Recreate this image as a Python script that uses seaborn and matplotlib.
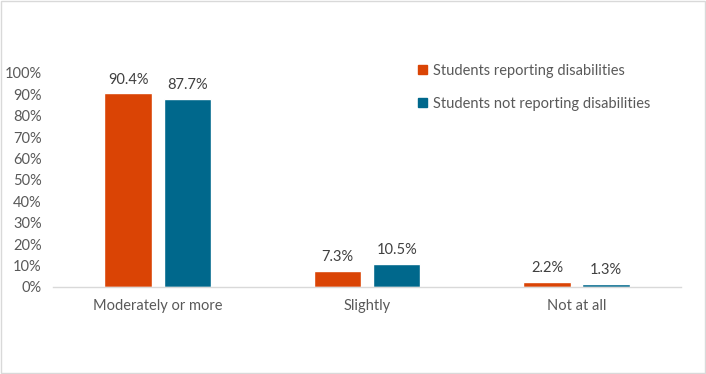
import matplotlib
matplotlib.use("Agg")
import matplotlib.pyplot as plt
from matplotlib.patches import Rectangle
import seaborn as sns
import pandas as pd

categories = ["Moderately or more", "Slightly", "Not at all"]
series_names = ["Students reporting disabilities", "Students not reporting disabilities"]
reporting = [90.4, 7.3, 2.2]
not_reporting = [87.7, 10.5, 1.3]
colors = ["#DA4405", "#00688C"]

df = pd.DataFrame({
    "category": categories * 2,
    "group": [series_names[0]] * 3 + [series_names[1]] * 3,
    "value": [v / 100 for v in reporting + not_reporting],
})

sns.set_theme(style="white")
plt.rcParams["font.family"] = ["Lato", "DejaVu Sans"]
text_color = "#595959"

fig = plt.figure(figsize=(7.06, 3.74), dpi=100)
ax = fig.add_axes([0.075, 0.233, 0.89, 0.572])

sns.barplot(data=df, x="category", y="value", hue="group", hue_order=series_names,
            palette=colors, width=0.565, gap=0.2, saturation=1, ax=ax)

for container in ax.containers:
    ax.bar_label(container, labels=[f"{b.get_height() * 100:.1f}%" for b in container],
                 padding=5, fontsize=10.5, color="#404040")

ax.set_ylim(0, 1.0)
ax.set_xlim(-0.5, 2.5)
ax.set_yticks([i / 10 for i in range(11)])
ax.set_yticklabels([f"{i * 10}%" for i in range(11)])
ax.tick_params(axis="both", length=0, labelsize=10.5, labelcolor=text_color)
ax.tick_params(axis="x", pad=9)
ax.tick_params(axis="y", pad=8)
ax.set_xlabel("")
ax.set_ylabel("")
for side in ["top", "right", "left"]:
    ax.spines[side].set_visible(False)
ax.spines["bottom"].set_color("#D9D9D9")
ax.spines["bottom"].set_linewidth(1)

ax.legend_.remove()
handles = [Rectangle((0, 0), 1, 1, color=c) for c in colors]
fig.legend(handles, series_names, loc="upper left", bbox_to_anchor=(0.574, 0.864),
           frameon=False, fontsize=10.5, labelcolor=text_color,
           handlelength=0.6, handleheight=0.6, handletextpad=0.4, labelspacing=1.3)

fig.patches.append(Rectangle((0.001, 0.002), 0.997, 0.996, transform=fig.transFigure,
                             fill=False, edgecolor="#D9D9D9", linewidth=1))

fig.savefig("out.png", dpi=100, facecolor="white")
